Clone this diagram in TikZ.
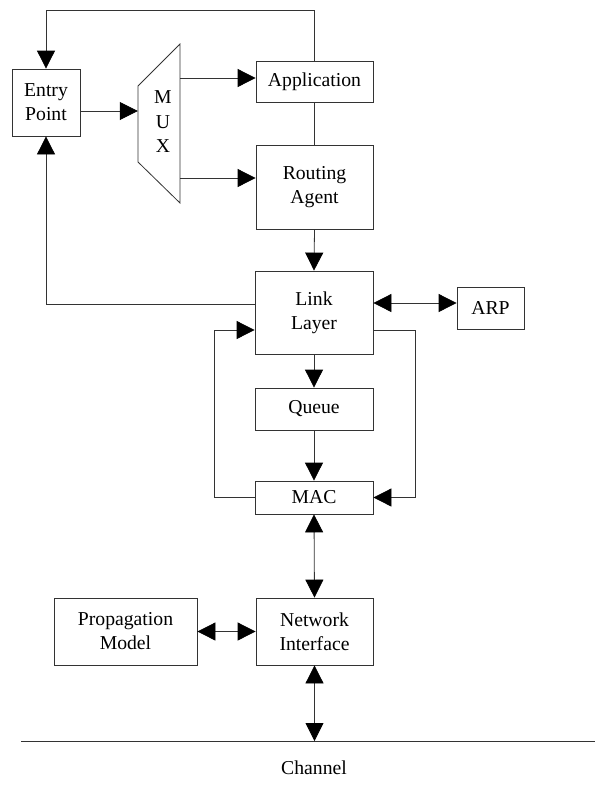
\documentclass[tikz,border=0pt]{standalone}
\usepackage{fontspec}
\setmainfont{Liberation Serif}
\usetikzlibrary{arrows.meta}
\begin{document}
\begin{tikzpicture}[x=1pt,y=-1pt,
  ln/.style={draw=black!80,line width=0.8pt},
  bx/.style={ln,inner sep=0pt,align=center,font=\fontsize{19.7}{24}\selectfont},
  arr/.style={ln,-{Triangle[length=18pt,width=18pt,color=black]}},
  dbl/.style={ln,{Triangle[length=18pt,width=18pt,color=black]}-{Triangle[length=18pt,width=18pt,color=black]}}]
\useasboundingbox (0,0) rectangle (595,788);
% boxes
\node[bx,minimum width=68pt,minimum height=67pt] (entry) at (46,102.5) {Entry\\Point};
\node[inner sep=0pt,minimum width=42pt,minimum height=159pt] (mux) at (159,123.5) {};
\draw[ln] (180,44) -- (180,203) -- (138,162) -- (138,86) -- cycle;
\node[align=center,inner sep=0pt,font=\fontsize{19.7}{24.5}\selectfont] (muxtxt) at (163,122) {M\\U\\X};
\node[bx,minimum width=117pt,minimum height=41pt] (app) at (314.5,81.5) {Application};
\node[bx,minimum width=117pt,minimum height=84pt] (rout) at (314.5,187) {Routing\\Agent};
\node[bx,minimum width=118pt,minimum height=83pt] (link) at (314,312.5) {Link\\Layer};
\node[bx,minimum width=67pt,minimum height=42pt] (arp) at (490.5,308) {ARP};
\node[bx,minimum width=118pt,minimum height=42pt] (queue) at (314,409) {Queue};
\node[bx,minimum width=118pt,minimum height=33pt] (mac) at (314,497.5) {MAC};
\node[bx,minimum width=143pt,minimum height=67pt] (prop) at (125.5,631.5) {Propagation\\Model};
\node[bx,minimum width=117pt,minimum height=67pt] (ni) at (314.5,631.5) {Network\\Interface};
\node[inner sep=0pt,font=\fontsize{19.7}{24}\selectfont] (chtxt) at (314,768) {Channel};
% helper coordinates
\coordinate (ytop) at (0,10);
\coordinate (y111) at (0,111);
\coordinate (y78) at (0,78);
\coordinate (y178) at (0,178);
\coordinate (y304) at (0,304);
\coordinate (y303) at (0,303);
\coordinate (lp) at (214,330);
\coordinate (rp) at (415,330);
\coordinate (chL) at (21,741);
\coordinate (chR) at (595,741);
% connectors
\draw[arr] (app.north) |- (entry.north |- ytop) -- (entry.north);
\draw[arr] (entry.east |- y111) -- (mux.west |- y111);
\draw[arr] (mux.east |- y78) -- (app.west |- y78);
\draw[arr] (mux.east |- y178) -- (rout.west |- y178);
\draw[ln] (app.south) -- (rout.north);
\draw[arr] (rout.south) -- (link.north);
\draw[arr] (link.west |- y304) -| (entry.south);
\draw[dbl] (link.east |- y303) -- (arp.west |- y303);
\draw[arr] (mac.west) -| (lp) -- (link.west |- lp);
\draw[arr] (link.east |- rp) -- (rp) |- (mac.east);
\draw[arr] (link.south) -- (queue.north);
\draw[arr] (queue.south) -- (mac.north);
\draw[dbl] (mac.south) -- (ni.north);
\draw[dbl] (prop.east) -- (ni.west);
\draw[ln] (chL) -- (chR);
\draw[dbl] (ni.south) -- (ni.south |- chL);
\end{tikzpicture}
\end{document}
